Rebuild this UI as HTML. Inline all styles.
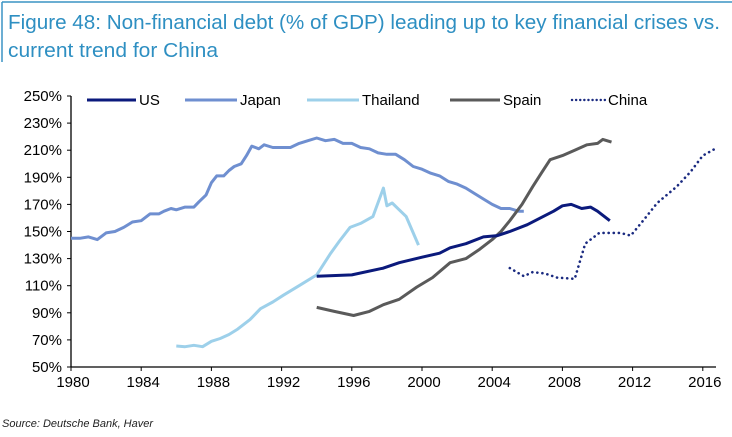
<!DOCTYPE html>
<html><head><meta charset="utf-8"><style>
body{margin:0;background:#fff;}
svg{display:block;font-family:"Liberation Sans",sans-serif;}
</style></head><body>
<svg id="chart" width="732" height="437" viewBox="0 0 732 437">
<line x1="2" y1="2" x2="732" y2="2" stroke="#3a93c4" stroke-width="1.5"/>
<line x1="2" y1="2" x2="2" y2="62" stroke="#3a93c4" stroke-width="1.5"/>
<text x="8" y="29" font-size="20" fill="#2e8fc2" textLength="712" lengthAdjust="spacingAndGlyphs">Figure 48: Non-financial debt (% of GDP) leading up to key financial crises vs.</text>
<text x="8" y="57" font-size="20" fill="#2e8fc2" textLength="210" lengthAdjust="spacingAndGlyphs">current trend for China</text>
<g id="axes"></g>
<g id="series"></g>
<g id="legend"></g>
<text x="2" y="427" font-size="11" font-style="italic" fill="#222">Source: Deutsche Bank, Haver</text>
</svg>
<script>
const yTicks=[50,70,90,110,130,150,170,190,210,230,250];
const xTicks=[1980,1984,1988,1992,1996,2000,2004,2008,2012,2016];
const usYears=[1994,1996,1997.8,1998.7,2000,2001,2001.6,2002.5,2003.5,2004.3,2005,2006,2006.9,2007.5,2008,2008.5,2009.1,2009.6,2010,2010.7];
const usVals=[117,118,123,127,131,134,138,141,146,147,150,155,161,165,169,170,167,168,165,158];
const japanYears=[1980,1980.5,1981,1981.5,1982,1982.5,1983,1983.5,1984,1984.5,1985,1985.3,1985.7,1986,1986.5,1987,1987.3,1987.7,1988,1988.3,1988.7,1989,1989.3,1989.7,1990,1990.3,1990.7,1991,1991.5,1992,1992.5,1993,1993.5,1994,1994.5,1995,1995.5,1996,1996.5,1997,1997.5,1998,1998.5,1999,1999.5,2000,2000.5,2001,2001.5,2002,2002.5,2003,2003.5,2004,2004.5,2005,2005.5,2005.8];
const japanVals=[145,145,146,144,149,150,153,157,158,163,163,165,167,166,168,168,172,177,186,191,191,195,198,200,206,213,211,214,212,212,212,215,217,219,217,218,215,215,212,211,208,207,207,203,198,196,193,191,187,185,182,178,174,170,167,167,165,165];
const thaiYears=[1986,1986.5,1987,1987.5,1988,1988.5,1989,1989.5,1990.2,1990.8,1991.5,1992.1,1993,1994,1994.8,1995.3,1995.9,1996.5,1997.2,1997.8,1998,1998.3,1998.7,1999.1,1999.8];
const thaiVals=[65.5,65,66,65,69,71,74,78,85,93,98,103,110,118,134,143,153,156,161,182,169,171,166,161,140];
const spainYears=[1994,1995,1996.1,1997,1997.8,1998.7,1999.7,2000.6,2001.6,2002.5,2003.3,2004,2004.5,2005,2005.7,2006.3,2006.8,2007.3,2008,2008.7,2009.4,2010,2010.3,2010.8];
const spainVals=[94,91,88,91,96,100,109,116,127,130,137,144,150,158,170,183,193,203,206,210,214,215,218,216];
const chinaYears=[2005,2005.8,2006.3,2007,2007.7,2008.7,2009.3,2010.1,2011.3,2011.9,2012.6,2013.4,2014.5,2015.3,2016,2016.7];
const chinaVals=[123,117,120,119,116,115,141,149,149,147,158,171,183,194,206,211];
const X0=71,YEAR0=1980,PXY=17.55,Y0=367,PXV=271/200;
function xs(y){return X0+(y-YEAR0)*PXY;}
function ys(v){return Y0-(v-50)*PXV;}
const NS="http://www.w3.org/2000/svg";
function mk(tag,attrs,parent){const e=document.createElementNS(NS,tag);for(const k in attrs)e.setAttribute(k,attrs[k]);parent.appendChild(e);return e;}
const axes=document.getElementById('axes');
const ya=mk('line',{x1:X0,y1:ys(250),x2:X0,y2:Y0,stroke:'#000','stroke-width':1.3},axes);


const xa=mk('line',{x1:X0,y1:Y0,x2:716,y2:Y0,stroke:'#000','stroke-width':1.3},axes);


yTicks.forEach(v=>{
 const t=mk('line',{x1:X0-4,y1:ys(v),x2:X0,y2:ys(v),stroke:'#000'},axes);
 
 
 const l=mk('text',{x:62,y:ys(v)+5,'font-size':15,'text-anchor':'end',fill:'#000'},axes);
 l.textContent=v+'%';
 
 
});
xTicks.forEach(v=>{
 const t=mk('line',{x1:xs(v),y1:Y0,x2:xs(v),y2:Y0+4,stroke:'#000'},axes);
 
 
 const l=mk('text',{x:xs(v)+2,y:Y0+20,'font-size':15,'text-anchor':'middle',fill:'#000'},axes);
 l.textContent=v;
 
 
});
const sg=document.getElementById('series');
function line(yrs,vals,color,name,dash){
 const d=yrs.map((y,i)=>(i?'L':'M')+xs(y).toFixed(1)+' '+ys(vals[i]).toFixed(1)).join(' ');
 const a={d:d,fill:'none',stroke:color,'stroke-width':3,'stroke-linejoin':'round'};
 if(dash){a['stroke-dasharray']='0.1 5';a['stroke-linecap']='round';a['stroke-width']=2.6;}
 const p=mk('path',a,sg);
 
 
}
line(japanYears,japanVals,'#6f8fd0','japan-line');
line(thaiYears,thaiVals,'#9dd0ea','thailand-line');
line(spainYears,spainVals,'#5a5a5a','spain-line');
line(usYears,usVals,'#0b1a7c','us-line');
line(chinaYears,chinaVals,'#1a2a80','china-line',true);
const lg=document.getElementById('legend');
const ents=[['US','#0b1a7c',87,136,false],['Japan','#6f8fd0',185,237,false],['Thailand','#9dd0ea',307,359,false],['Spain','#5a5a5a',450,500,false],['China','#1a2a80',572,605,true]];
ents.forEach(e=>{
 const a={x1:e[2],y1:100,x2:e[3],y2:100,stroke:e[1],'stroke-width':3};
 if(e[4]){a['stroke-dasharray']='0.1 4';a['stroke-linecap']='round';a['stroke-width']=2.4;}
 const l=mk('line',a,lg);
 
 
 const t=mk('text',{x:e[3]+3,y:105,'font-size':15,fill:'#000'},lg);
 t.textContent=e[0];
 
 
});
</script>
</body></html>
